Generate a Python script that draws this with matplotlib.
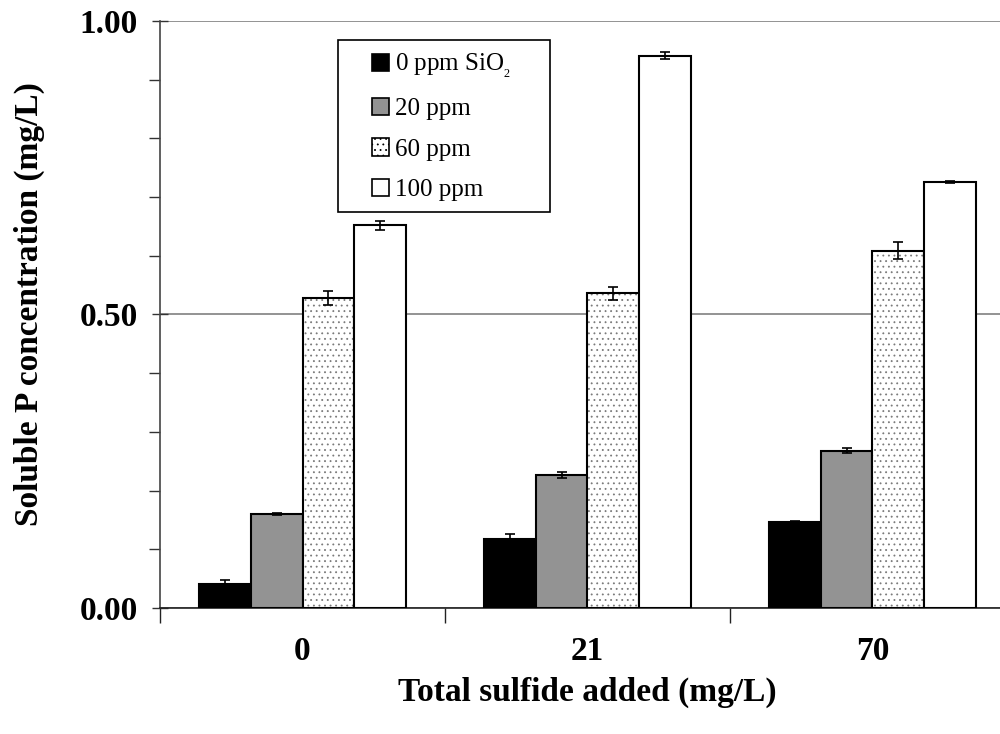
import numpy as np
import matplotlib
matplotlib.use("Agg")
import matplotlib.pyplot as plt
from matplotlib.patches import Patch, Rectangle
from matplotlib.ticker import MultipleLocator

plt.rcParams['font.family'] = 'Liberation Serif'
plt.rcParams['mathtext.fontset'] = 'custom'
plt.rcParams['mathtext.rm'] = 'Liberation Serif'
plt.rcParams['hatch.linewidth'] = 0.6

# soluble P (mg/L) for each SiO2 dose, at 0 / 21 / 70 mg/L sulfide
sulfide = ['0', '21', '70']
series = ['0 ppm SiO$_{_2}$', '20 ppm', '60 ppm', '100 ppm']
p_0ppm = [0.041, 0.118, 0.147]
p_20ppm = [0.160, 0.226, 0.268]
p_60ppm = [0.528, 0.536, 0.609]
p_100ppm = [0.652, 0.941, 0.726]
err_0ppm = [0.006, 0.008, 0.002]
err_20ppm = [0.002, 0.005, 0.004]
err_60ppm = [0.012, 0.011, 0.0145]
err_100ppm = [0.008, 0.006, 0.002]

values = [p_0ppm, p_20ppm, p_60ppm, p_100ppm]
errors = [err_0ppm, err_20ppm, err_60ppm, err_100ppm]
fills = ['black', '#939393', 'white', 'white']
hatches = [None, None, '...', None]
dot_color = '#7a7a7a'

fig = plt.figure(figsize=(10, 7.34), dpi=100)
ax = fig.add_axes([0.16, 0.1717, 0.855, 0.7997])

x = np.arange(len(sulfide))
w = 1 / 5.5
for i in range(len(series)):
    pos = x + (i - 1.5) * w
    if hatches[i]:
        # dots first (hatch takes the edge colour), then the black outline
        ax.bar(pos, values[i], w, color=fills[i], edgecolor=dot_color,
               linewidth=0, hatch=hatches[i], zorder=3)
        ax.bar(pos, values[i], w, fill=False, edgecolor='black',
               linewidth=1.5, zorder=3)
    else:
        ax.bar(pos, values[i], w, color=fills[i], edgecolor='black',
               linewidth=1.5, zorder=3)
    ax.errorbar(pos, values[i], yerr=errors[i], fmt='none', ecolor='black',
                elinewidth=1.2, capsize=3.8, capthick=1.2, zorder=4)

ax.set_xlim(-0.5, 2.5)
ax.set_ylim(0, 1.0)
ax.set_yticks([0, 0.5, 1.0])
ax.set_yticklabels(['0.00', '0.50', '1.00'])
ax.yaxis.set_minor_locator(MultipleLocator(0.1))
ax.set_xticks(x)
ax.set_xticklabels(sulfide)
ax.set_xticks([-0.5, 0.5, 1.5], minor=True)

ax.tick_params(axis='y', which='major', direction='inout', length=12, width=1,
               labelsize=24, pad=10, colors='#333333', labelcolor='black')
ax.tick_params(axis='y', which='minor', direction='out', length=8, width=1,
               colors='#333333')
ax.tick_params(axis='x', which='major', length=0, labelsize=24, pad=20)
ax.tick_params(axis='x', which='minor', direction='out', length=11, width=1,
               colors='#222222')
for lbl in ax.get_xticklabels() + ax.get_yticklabels():
    lbl.set_fontweight('bold')

ax.grid(axis='y', which='major', color='#808080', linewidth=1.2, zorder=0)
for s in ['top', 'right']:
    ax.spines[s].set_visible(False)
ax.spines['left'].set_color('#444444')
ax.spines['left'].set_linewidth(1.2)
ax.spines['bottom'].set_color('#222222')
ax.spines['bottom'].set_linewidth(1.2)

ax.set_ylabel('Soluble P concentration (mg/L)', fontsize=24, fontweight='bold',
              va='center')
ax.yaxis.set_label_coords(-0.153, 0.517)
ax.set_xlabel('Total sulfide added (mg/L)', fontsize=24, fontweight='bold',
              labelpad=7)

handles = []
for i in range(len(series)):
    handles.append(Patch(facecolor=fills[i], edgecolor='black', linewidth=1.2,
                         hatch=hatches[i]))
fig.add_artist(Rectangle((0.338, 1 - 212 / 734), 0.212, 172 / 734,
                         transform=fig.transFigure, facecolor='white',
                         edgecolor='black', linewidth=1.2, zorder=5))
leg = fig.legend(handles, series, loc='upper left',
                 bbox_to_anchor=(0.372, 1 - 52 / 734), frameon=False,
                 fontsize=18, handlelength=0.68, handleheight=0.68,
                 handletextpad=0.25, labelspacing=0.72, borderpad=0,
                 borderaxespad=0)
leg.set_zorder(6)

fig.savefig('out.png', dpi=100)
